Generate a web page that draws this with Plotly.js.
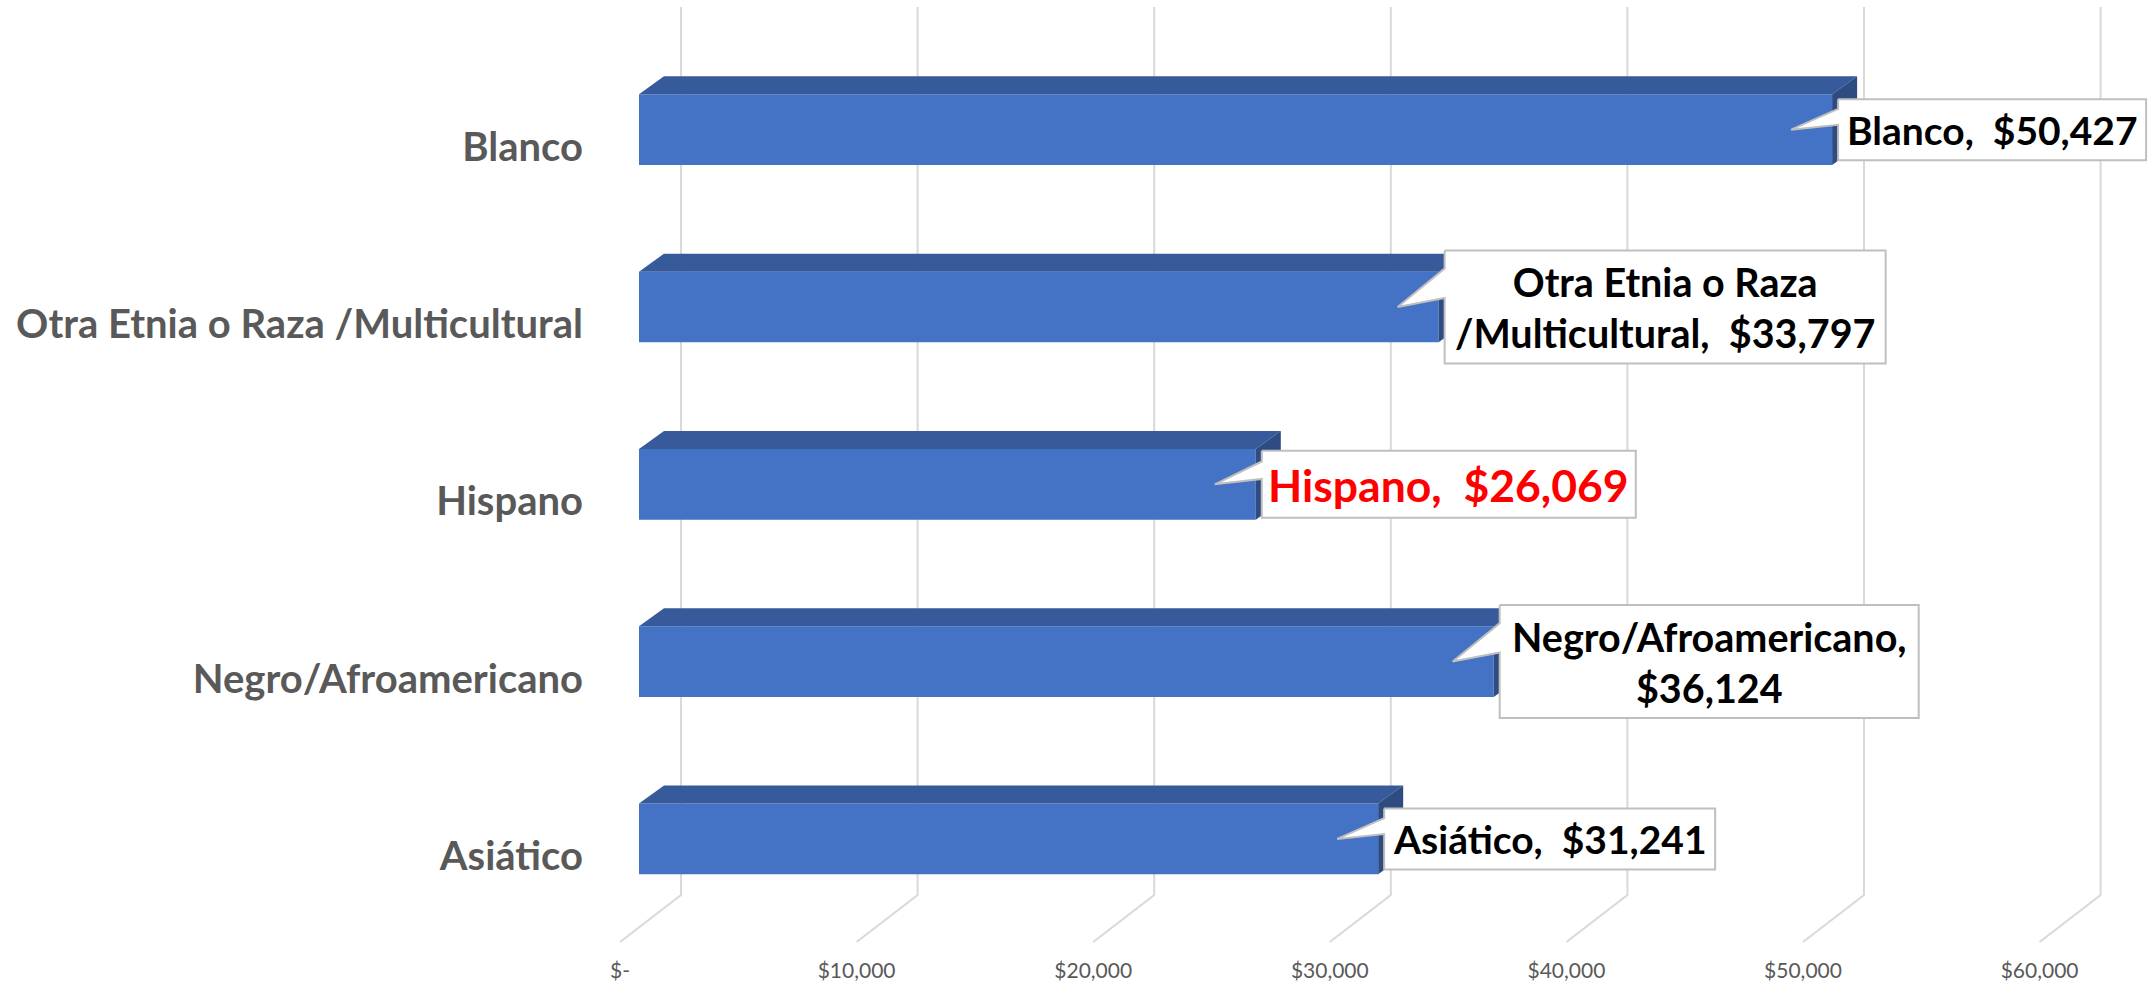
<!DOCTYPE html>
<html><head><meta charset="utf-8">
<script src="https://cdn.plot.ly/plotly-3.0.1.min.js"></script>
<style>html,body{margin:0;padding:0;background:#fff;}#chart{width:2153px;height:984px;}</style>
</head><body><div id="chart"></div>
<script>
// ---- data ----
const categories = ["Blanco", "Otra Etnia o Raza /Multicultural", "Hispano", "Negro/Afroamericano", "Asiático"];
const values = [50427, 33797, 26069, 36124, 31241];
const tickValues = [0, 10000, 20000, 30000, 40000, 50000, 60000];
const tickLabels = ["$-", "$10,000", "$20,000", "$30,000", "$40,000", "$50,000", "$60,000"];
const labelWraps = [null, [" /", "<br>/"], null, [",  ", ",<br>"], null];

// ---- style / geometry ----
const labelColors = ["#000000", "#000000", "#FF0000", "#000000", "#000000"];
const labelSizes = [39, 39.5, 44.5, 39.5, 39];
const boxWidths = [308, 441, 374, 419, 331];
const boxHeights = [61, 113, 67, 113, 61];
const FRONT = "#4472C4", TOP = "#375B9A", SIDE = "#2E4C82";
const W = 2153, H = 984;
const ML = 584, MB = 28;
const X0PX = 639, PXPERUNIT = 0.02366;      // front face zero & scale
const Y0PX = 129.7, PXPERCAT = 177.3;        // first bar centre & spacing
const ux = 1 / PXPERUNIT, uy = 1 / PXPERCAT;
const BARH = 70.7 * uy;
const DX = 25 * ux, DY = 18 * uy;           // bar depth
const BACKDX = 42 * ux, FRONTDX = -19 * ux;  // wall / floor offsets
const GRIDTOP = (7 - Y0PX) * uy, FLOORBACK = (895 - Y0PX) * uy, FLOORFRONT = (942 - Y0PX) * uy;
const LABELSHIFT = 17 * uy;

const idx = categories.map((c, i) => i);
const money = v => "$" + v.toLocaleString("en-US");

const traces = [];
// front faces
traces.push({
  type: "bar", orientation: "h", x: values, y: idx, base: 0, width: BARH,
  marker: { color: FRONT, line: { width: 0 } }, hoverinfo: "skip"
});
// top and side faces
values.forEach((v, i) => {
  const yt = i - BARH / 2, yb = i + BARH / 2;
  traces.push({
    type: "scatter", mode: "lines", fill: "toself", fillcolor: TOP, line: { width: 0, color: TOP },
    x: [0, v, v + DX, DX, 0], y: [yt, yt, yt - DY, yt - DY, yt], hoverinfo: "skip"
  });
  traces.push({
    type: "scatter", mode: "lines", fill: "toself", fillcolor: SIDE, line: { width: 0, color: SIDE },
    x: [v, v + DX, v + DX, v, v], y: [yt, yt - DY, yb - DY, yb, yt], hoverinfo: "skip"
  });
});
// callouts
const annotations = [];
values.forEach((v, i) => {
  const bw = boxWidths[i], bh = boxHeights[i];
  const pts = [[6, -bh / 2], [6 + bw, -bh / 2], [6 + bw, bh / 2], [6, bh / 2], [6, -0.08 * bh], [-41, 0], [6, -0.34 * bh], [6, -bh / 2]];
  traces.push({
    type: "scatter", mode: "lines", fill: "toself", fillcolor: "#FFFFFF",
    line: { color: "#BFBFBF", width: 2 },
    x: pts.map(p => v + p[0] * ux), y: pts.map(p => i + p[1] * uy), hoverinfo: "skip"
  });
  let txt = categories[i] + ",  " + money(v);
  if (labelWraps[i]) txt = txt.replace(labelWraps[i][0], labelWraps[i][1]);
  annotations.push({
    xref: "x", yref: "y", x: v, y: i, xanchor: "center", yanchor: "middle",
    xshift: 6 + bw / 2, yshift: 0, showarrow: false, align: "center", text: txt,
    font: { family: "Lato, sans-serif", size: labelSizes[i], color: labelColors[i], weight: "bold" }
  });
});

// gridlines (back wall + floor)
const shapes = tickValues.map(t => ({
  type: "path", layer: "below", xref: "x", yref: "y",
  path: `M ${t + BACKDX},${GRIDTOP} L ${t + BACKDX},${FLOORBACK} L ${t + FRONTDX},${FLOORFRONT}`,
  line: { color: "#D9D9D9", width: 2 }
}));

const layout = {
  width: W, height: H, margin: { l: ML, r: 0, t: 0, b: MB, pad: 0 },
  paper_bgcolor: "#FFFFFF", plot_bgcolor: "#FFFFFF", showlegend: false, hovermode: false,
  xaxis: {
    range: [(ML - X0PX) * ux, (W - X0PX) * ux], showgrid: false, zeroline: false, showline: false,
    tickmode: "array", tickvals: tickValues.map(t => t + FRONTDX), ticktext: tickLabels, ticks: "",
    tickfont: { family: "Lato, sans-serif", size: 21, color: "#595959" }
  },
  yaxis: {
    range: [((H - MB) - Y0PX) * uy, (0 - Y0PX) * uy], showgrid: false, zeroline: false, showline: false,
    tickmode: "array", tickvals: idx.map(i => i + LABELSHIFT), ticktext: categories, ticks: "",
    tickfont: { family: "Lato, sans-serif", size: 40, color: "#595959", weight: "bold" }
  },
  shapes: shapes, annotations: annotations
};
Plotly.newPlot("chart", traces, layout, { staticPlot: true, displayModeBar: false });
</script></body></html>
